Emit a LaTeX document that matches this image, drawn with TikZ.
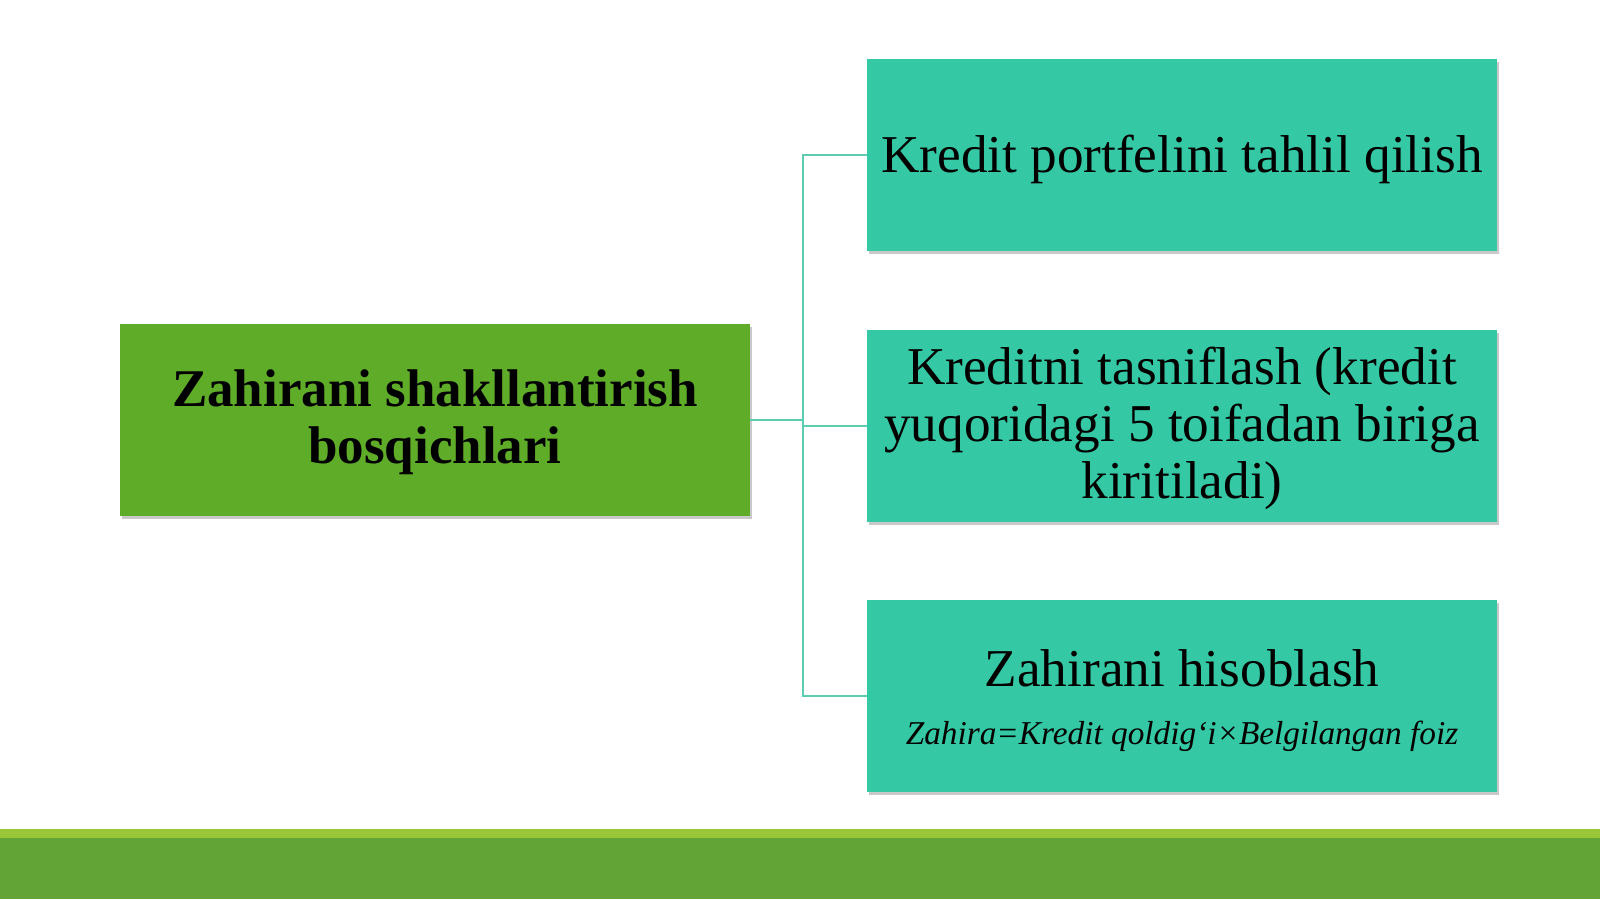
\documentclass[tikz,border=0pt]{standalone}
\usepackage{fontspec}
\setmainfont{Liberation Serif}
\usetikzlibrary{shadows}
\definecolor{maingreen}{HTML}{5FAC29}
\definecolor{teal}{HTML}{35C8A5}
\definecolor{conncol}{HTML}{5CCDB0}
\definecolor{bandlight}{HTML}{9AC73A}
\definecolor{banddark}{HTML}{63A437}
\begin{document}
\begin{tikzpicture}[x=1pt,y=-1pt,
  boxbase/.style={rectangle, minimum width=630pt, minimum height=192pt, inner sep=0pt,
     drop shadow={shadow xshift=2pt, shadow yshift=-3pt, opacity=0.35, fill=black!60}},
  mainbox/.style={boxbase, fill=maingreen},
  stepbox/.style={boxbase, fill=teal},
  maintext/.style={inner sep=0pt, align=center, font=\fontsize{53}{57}\selectfont\bfseries},
  steptext/.style={inner sep=0pt, align=center, font=\fontsize{53.2}{57}\selectfont},
  conn/.style={draw=conncol, line width=1.8pt}]
\useasboundingbox (0,0) rectangle (1600,899);
\fill[white] (0,0) rectangle (1600,899);
% bottom band
\fill[bandlight] (0,829) rectangle (1600,839);
\fill[banddark] (0,838) rectangle (1600,899);
% boxes
\node[mainbox] (main) at (435,420) {};
\node[stepbox] (b1) at (1182,155) {};
\node[stepbox] (b2) at (1182,426) {};
\node[stepbox] (b3) at (1182,696) {};
% texts
\node[maintext] (maint) at ([yshift=-2pt]main.center) {Zahirani shakllantirish\\bosqichlari};
\node[steptext] (b1t) at ([yshift=-4pt]b1.center) {Kredit portfelini tahlil qilish};
\node[steptext] (b2t) at ([yshift=-2pt]b2.center) {Kreditni tasniflash (kredit\\yuqoridagi 5 toifadan biriga\\kiritiladi)};
\node[steptext, anchor=base] (b3t) at (1182,686) {Zahirani hisoblash};
\node[inner sep=0pt, font=\fontsize{33.3}{37}\selectfont\itshape, anchor=base] (b3f) at (1182,744) {Zahira=Kredit qoldig‘i×Belgilangan foiz};
% connectors
\coordinate (bus) at (803,0);
\draw[conn] (main.east) -- (main.east -| bus);
\draw[conn] (b1.west) -- (b1.west -| bus) -- (b3.west -| bus) -- (b3.west);
\draw[conn] (b2.west) -- (b2.west -| bus);
\end{tikzpicture}
\end{document}
